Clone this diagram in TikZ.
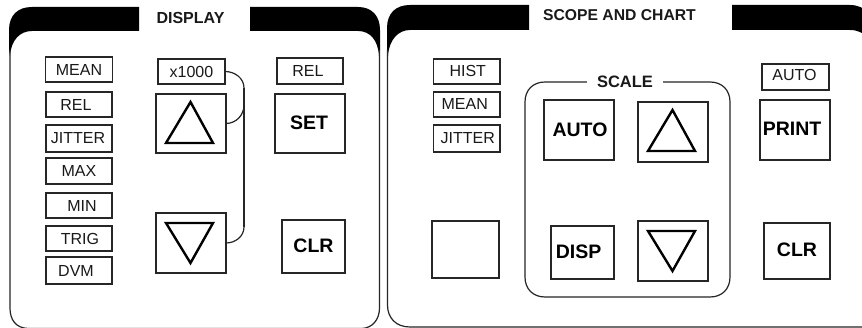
\documentclass[tikz,border=0pt]{standalone}
\usepackage{fontspec}
\setmainfont{Liberation Sans}
\tikzset{
  boxed/.style={draw=black!85,line width=1.05pt,inner sep=0pt,outer sep=0pt,font=\fontsize{16}{16}\selectfont,text=black!90},
  key/.style={boxed,font=\bfseries\fontsize{19.5}{20}\selectfont,text=black},
  title/.style={inner sep=0pt,font=\bfseries\fontsize{16}{16}\selectfont,text=black!90},
  frame/.style={draw=black!85,line width=1.2pt},
  tri/.style={draw=black,line width=2.4pt,line join=miter},
  wire/.style={draw=black!85,line width=1.2pt}
}
% \tx[style]{name}{x1}{y1}{x2}{y2}{dx}{dy}{text}
\newcommand{\tx}[9][boxed]{%
  \node[#1,minimum width={(#5-#3)*1pt},minimum height={(#6-#4)*1pt}] (#2) at ({(#3+#5)/2},{(#4+#6)/2})
    {\makebox[0pt]{\hspace*{\dimexpr 2pt*\numexpr#7\relax\relax}\raisebox{\dimexpr -2pt*\numexpr#8\relax\relax}{#9}}};}
\begin{document}
\begin{tikzpicture}[x=1pt,y=-1pt]
\useasboundingbox (0,0) rectangle (862,328);
\fill[white] (0,0) rectangle (862,328);
% left panel
\fill[black] (10,56) -- (9,50) -- (9,30) .. controls (9,15) and (18,7) .. (32,7) -- (139,7) -- (139,31) -- (32,31)
  .. controls (20,31) and (11,40) .. (10,56) -- cycle;
\fill[black] (250,7) -- (358,7) .. controls (372,7) and (380,16) .. (380,30) -- (380,50) -- (379,56)
  .. controls (378,40) and (370,31) .. (358,31) -- (250,31) -- cycle;
\draw[frame] (10,50) -- (10,308) .. controls (10,320) and (16,328) .. (28,328.5) -- (362,328.5)
  .. controls (372,328) and (379.5,320) .. (379.5,308) -- (379.5,50);
\node[title] (dtitle) at (190.5,17.5) {DISPLAY};
% right panel
\begin{scope}
\clip (0,0) rectangle (862,328);
\fill[black] (388,56) -- (387,50) -- (387,28) .. controls (387,13) and (396,5) .. (410,5) -- (529,5) -- (529,30) -- (410,30)
  .. controls (398,30) and (389,40) .. (388,56) -- cycle;
\fill[black] (732,5) -- (850,5) .. controls (858,5) and (864,8) .. (870,14) -- (870,40)
  .. controls (864,33) and (858,30) .. (850,30) -- (732,30) -- cycle;
\draw[frame] (387.5,50) -- (387.5,305) .. controls (387.5,318) and (396,327) .. (410,327) -- (880,327);
\end{scope}
\node[title,font=\bfseries\fontsize{15.7}{16}\selectfont] (stitle) at (619.5,15.5) {SCOPE AND CHART};
% left labels
\tx{lmean}{45.5}{57}{112.5}{82}{0}{1}{MEAN}
\tx{lrel}{46}{92}{112}{117}{-3}{1}{REL}
\tx{ljit}{46}{125}{112}{152}{-1}{0}{JITTER}
\tx{lmax}{46}{158}{112}{184}{0}{1}{MAX}
\tx{lmin}{46}{193}{112}{218}{3}{1}{MIN}
\tx{ltrig}{46}{226}{112}{251}{1}{1}{TRIG}
\tx{ldvm}{46}{257}{112}{284}{-3}{2}{DVM}
\tx{xk}{158}{59}{225}{84}{0}{2}{x1000}
\tx{drel}{277}{58}{343}{84}{-2}{0}{REL}
\tx[key]{dset}{275}{94}{345}{153}{-1}{-1}{SET}
\tx[key]{dclr}{282}{220}{345}{273}{0}{-1}{CLR}
\tx{dup}{156}{94}{226}{153}{0}{0}{}
\tx{ddn}{156}{213}{226}{273}{0}{0}{}
\draw[tri] (190.5,102) -- (213,143) -- (166,143) -- cycle;
\draw[tri] (166,223) -- (213,223) -- (190.5,263) -- cycle;
% bus
\coordinate (j1) at (244,88);
\coordinate (j2) at (244,105);
\coordinate (j3) at (244,227);
\draw[wire] (xk.east) to[out=0,in=90] (j1);
\draw[wire] (dup.east) to[out=0,in=-90] (j2);
\draw[wire] (ddn.east) to[out=0,in=-90] (j3);
\draw[wire] (j1) -- (j3);
% right labels
\tx{hist}{433.5}{59}{500}{84}{1}{-1}{HIST}
\tx{rmean}{433.5}{92}{500}{117}{-2}{-1}{MEAN}
\tx{rjit}{433.5}{125}{500}{152}{1}{0}{JITTER}
\tx{blank}{432}{221}{499}{278}{0}{0}{}
% scale group
\draw[frame] (525,102) .. controls (525,90) and (533,82) .. (545,82) -- (710,82)
  .. controls (722,82) and (730,90) .. (730,102) -- (730,277)
  .. controls (730,289) and (722,297) .. (710,297) -- (545,297)
  .. controls (533,297) and (525,289) .. (525,277) -- cycle;
\node[title,fill=white,minimum width=76pt,minimum height=14pt,font=\bfseries\fontsize{16.5}{17}\selectfont] (scale) at (625,82) {SCALE};
\tx[key]{sauto}{544}{100}{614}{160}{1}{0}{AUTO}
\tx{sup}{638}{102}{708}{162}{0}{0}{}
\tx[key]{sdisp}{551}{226}{614}{279}{-4}{-1}{DISP}
\tx{sdn}{638}{221}{708}{281}{0}{0}{}
\draw[tri] (672.5,110) -- (695,151) -- (648,151) -- cycle;
\draw[tri] (648,231) -- (695,231) -- (672.5,271) -- cycle;
% right column
\tx{rauto}{762}{64}{829}{90}{-1}{-2}{AUTO}
\tx[key]{print}{760}{100}{830}{160}{-3}{-1}{PRINT}
\tx[key]{rclr}{764}{223}{830}{279}{0}{-1}{CLR}
\end{tikzpicture}
\end{document}
